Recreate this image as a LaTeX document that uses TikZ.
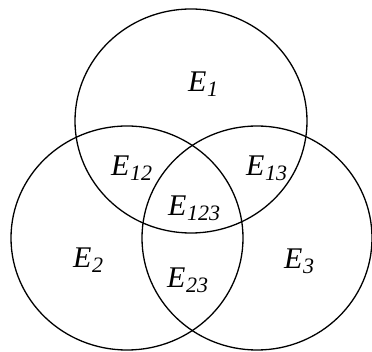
\documentclass[tikz,border=0pt]{standalone}
\usepackage{fontspec}
\setmainfont{Liberation Serif}
\usetikzlibrary{positioning}
\newcommand{\evset}[1]{\textit{E}\kern0.5pt\raisebox{-5pt}{\fontsize{22}{22}\selectfont\textit{#1}}}
\tikzset{
  setring/.style={draw=black, line width=1.3pt},
  setlabel/.style={font=\fontsize{30}{30}\selectfont, inner sep=0pt, anchor=base west},
}
\begin{document}
\begin{tikzpicture}[x=1pt, y=-1pt]
  \useasboundingbox (0,0) rectangle (372,352);
  % the three sets
  \coordinate (c1) at (191,121);
  \coordinate (c2) at (127,238);
  \coordinate (c3) at (257,238);
  \draw[setring] (c1) circle [x radius=116, y radius=112];
  \draw[setring] (c2) circle [x radius=116, y radius=112];
  \draw[setring] (c3) circle [x radius=115, y radius=112];
  % region labels
  \node[setlabel] (e1)   at (188,92)  {\evset{1}};
  \node[setlabel] (e12)  at (111,176) {\evset{12}};
  \node[setlabel] (e13)  at (246,176) {\evset{13}};
  \node[setlabel] (e123) at (168,216) {\evset{123}};
  \node[setlabel] (e2)   at (73,268)  {\evset{2}};
  \node[setlabel] (e3)   at (284,269) {\evset{3}};
  \node[setlabel] (e23)  at (167,288) {\evset{23}};
\end{tikzpicture}
\end{document}
